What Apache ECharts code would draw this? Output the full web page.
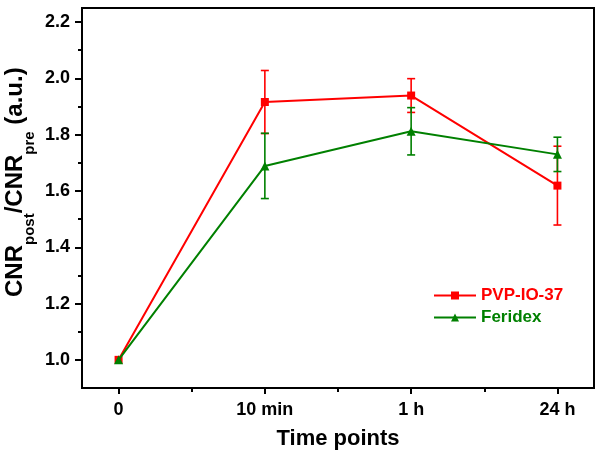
<!DOCTYPE html>
<html><head><meta charset="utf-8">
<script src="https://cdn.jsdelivr.net/npm/echarts@6/dist/echarts.min.js"></script>
<style>html,body{margin:0;padding:0;background:#fff}#c{width:602px;height:459px}</style>
</head><body><div id="c"></div>
<script>
const categories = ['0', '10 min', '1 h', '24 h'];
const pvpValues = [1.0, 1.916, 1.939, 1.619];
const pvpErrors = [0, 0.112, 0.060, 0.140];
const feridexValues = [1.0, 1.689, 1.812, 1.730];
const feridexErrors = [0, 0.116, 0.084, 0.061];
const yTickValues = [1.0, 1.2, 1.4, 1.6, 1.8, 2.0, 2.2];
const yMinorTickValues = [1.1, 1.3, 1.5, 1.7, 1.9, 2.1];
const xMinorTickValues = [0.5, 1.5, 2.5];
// y-axis title pieces: [text, isSubscript]
const yTitleParts = [['CNR', false], ['post', true], ['/CNR', false], ['pre', true], [' (a.u.)', false]];

const FONT = '"Liberation Sans", Arial, sans-serif';
const RED = '#ff0000', GREEN = '#008000';
const xIdx = categories.map((c, i) => i);
function pts(vals) { return vals.map((v, i) => [xIdx[i], v]); }
function errPts(vals, errs) { return vals.map((v, i) => [xIdx[i], v, errs[i]]); }

function errRender(color) {
  return function (params, api) {
    const x = api.value(0), y = api.value(1), e = api.value(2);
    if (!e) return { type: 'group', children: [] };
    const top = api.coord([x, y + e]), bot = api.coord([x, y - e]);
    const hw = 4;
    const st = { stroke: color, lineWidth: 1.6 };
    return { type: 'group', children: [
      { type: 'line', shape: { x1: top[0], y1: top[1], x2: bot[0], y2: bot[1] }, style: st },
      { type: 'line', shape: { x1: top[0] - hw, y1: top[1], x2: top[0] + hw, y2: top[1] }, style: st },
      { type: 'line', shape: { x1: bot[0] - hw, y1: bot[1], x2: bot[0] + hw, y2: bot[1] }, style: st }
    ]};
  };
}

// Build rotated y title from measured pieces
const MAIN_FS = 24, SUB_FS = 15, SUB_DROP = 11;
const mctx = document.createElement('canvas').getContext('2d');
let cursor = 0;
const titleChildren = yTitleParts.map(([t, sub]) => {
  const fs = sub ? SUB_FS : MAIN_FS;
  mctx.font = 'bold ' + fs + 'px ' + FONT;
  const w = mctx.measureText(t).width;
  const el = {
    type: 'text', x: cursor, y: (sub ? SUB_DROP : 0) - 0.3465 * fs,
    style: { text: t, fontSize: fs, fontWeight: 'bold', fontFamily: FONT, fill: '#000', align: 'left', verticalAlign: 'middle' }
  };
  cursor += w;
  return el;
});

const axisLineStyle = { color: '#000', width: 2 };
const chart = echarts.init(document.getElementById('c'), null, { renderer: 'canvas' });
chart.setOption({
  animation: false,
  backgroundColor: '#fff',
  grid: { left: 82, right: 8, top: 8, bottom: 71, show: true, borderColor: '#000', borderWidth: 2, containLabel: false, outerBoundsMode: 'none' },
  legend: {
    left: 433, top: 287, padding: 0, orient: 'vertical', itemWidth: 42, itemHeight: 10, itemGap: 5,
    textStyle: { fontSize: 17, fontWeight: 'bold', fontFamily: FONT },
    data: [
      { name: 'PVP-IO-37', textStyle: { color: RED } },
      { name: 'Feridex', textStyle: { color: GREEN } }
    ]
  },
  xAxis: [
    {
      type: 'value', min: -0.25, max: 3.25, position: 'bottom',
      axisLine: { onZero: false, lineStyle: axisLineStyle },
      axisTick: { customValues: xIdx, length: 6, lineStyle: axisLineStyle },
      axisLabel: { customValues: xIdx, formatter: v => categories[Math.round(v)], color: '#000', fontSize: 18, fontWeight: 'bold', fontFamily: FONT, margin: 13 },
      splitLine: { show: false },
      name: 'Time points', nameLocation: 'middle', nameGap: 40,
      nameTextStyle: { color: '#000', fontSize: 22, fontWeight: 'bold', fontFamily: FONT }
    },
    {
      type: 'value', min: -0.25, max: 3.25, position: 'bottom',
      axisLine: { show: false, onZero: false },
      axisTick: { customValues: xMinorTickValues, length: 4, lineStyle: axisLineStyle },
      axisLabel: { show: false }, splitLine: { show: false }
    }
  ],
  yAxis: [
    {
      type: 'value', min: 0.9, max: 2.25, position: 'left',
      axisLine: { onZero: false, lineStyle: axisLineStyle },
      axisTick: { customValues: yTickValues, length: 7, lineStyle: axisLineStyle },
      axisLabel: { customValues: yTickValues, formatter: v => v.toFixed(1), color: '#000', fontSize: 18, fontWeight: 'bold', fontFamily: FONT, margin: 12 },
      splitLine: { show: false }
    },
    {
      type: 'value', min: 0.9, max: 2.25, position: 'left',
      axisLine: { show: false, onZero: false },
      axisTick: { customValues: yMinorTickValues, length: 4, lineStyle: axisLineStyle },
      axisLabel: { show: false }, splitLine: { show: false }
    }
  ],
  graphic: [{
    type: 'group', x: 24, y: 297, rotation: Math.PI / 2,
    children: titleChildren
  }],
  series: [
    { name: 'PVP-IO-37 err', type: 'custom', xAxisIndex: 0, yAxisIndex: 0, data: errPts(pvpValues, pvpErrors), renderItem: errRender(RED), z: 2 },
    { name: 'PVP-IO-37', type: 'line', data: pts(pvpValues), symbol: 'rect', symbolSize: 8,
      color: RED, itemStyle: { color: RED }, lineStyle: { color: RED, width: 2 }, z: 3 },
    { name: 'Feridex err', type: 'custom', xAxisIndex: 0, yAxisIndex: 0, data: errPts(feridexValues, feridexErrors), renderItem: errRender(GREEN), z: 4 },
    { name: 'Feridex', type: 'line', data: pts(feridexValues), symbol: 'triangle', symbolSize: 9,
      color: GREEN, itemStyle: { color: GREEN }, lineStyle: { color: GREEN, width: 2 }, z: 5 }
  ]
});
</script>
</body></html>
